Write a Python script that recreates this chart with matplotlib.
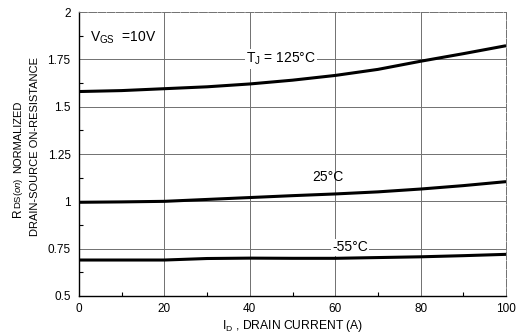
import matplotlib
matplotlib.use("Agg")
import matplotlib.pyplot as plt
from matplotlib.ticker import MultipleLocator
from matplotlib.transforms import offset_copy

plt.rcParams['font.family'] = ['Liberation Sans', 'DejaVu Sans']
plt.rcParams['mathtext.fontset'] = 'custom'
plt.rcParams['mathtext.rm'] = 'Liberation Sans'
plt.rcParams['mathtext.it'] = 'Liberation Sans:italic'

# Data
current = [0, 10, 20, 30, 40, 50, 60, 70, 80, 90, 100]
r_125 = [1.580, 1.585, 1.595, 1.605, 1.620, 1.640, 1.665, 1.697, 1.740, 1.780, 1.822]
r_25 = [0.995, 0.997, 1.000, 1.010, 1.020, 1.030, 1.039, 1.050, 1.065, 1.083, 1.104]
r_m55 = [0.690, 0.690, 0.690, 0.698, 0.700, 0.699, 0.699, 0.703, 0.707, 0.713, 0.720]

x_ticks = [0, 20, 40, 60, 80, 100]
y_ticks = [0.5, 0.75, 1.0, 1.25, 1.5, 1.75, 2.0]
y_ticklabels = ['0.5', '0.75', '1', '1.25', '1.5', '1.75', '2']

fig = plt.figure(figsize=(5.19, 3.34), dpi=100)
ax = fig.add_axes([0.1522, 0.1138, 0.8228, 0.8502])

for yv in y_ticks[1:-1]:
    ax.axhline(yv, color='#707070', lw=0.7, zorder=1)
for xv in x_ticks[1:-1]:
    ax.axvline(xv, color='#707070', lw=0.7, zorder=1)

for ys in (r_125, r_25, r_m55):
    ax.plot(current, ys, color='black', lw=2.2, zorder=3, solid_capstyle='butt')

ax.set_xlim(0, 100)
ax.set_ylim(0.5, 2.0)
ax.set_xticks(x_ticks)
ax.set_yticks(y_ticks)
ax.set_yticklabels(y_ticklabels)
ax.xaxis.set_minor_locator(MultipleLocator(10))
ax.yaxis.set_minor_locator(MultipleLocator(0.125))
ax.tick_params(which='both', direction='in', labelsize=8.5, length=3, width=0.8)
ax.tick_params(which='major', length=0, pad=5)
ax.tick_params(axis='y', which='major', pad=6)

for side in ('left', 'bottom'):
    ax.spines[side].set_linewidth(1.0)
for side in ('top', 'right'):
    ax.spines[side].set_linewidth(0.7)
    ax.spines[side].set_color('#707070')
    ax.spines[side].set_linestyle((0, (8, 1.5)))

ax.text(2.6, 1.863, r'V$_{\mathregular{GS}}$  =10V', fontsize=10, va='center', ha='left', zorder=4)
ax.text(39.1, 1.752, r'T$_{\mathregular{J}}$ = 125°C', fontsize=10, va='center', ha='left', zorder=4,
        bbox=dict(facecolor='white', edgecolor='none', pad=1))
ax.text(58.3, 1.13, '25°C', fontsize=10, va='center', ha='center', zorder=4)
ax.text(63.5, 0.757, '-55°C', fontsize=10, va='center', ha='center', zorder=4,
        bbox=dict(facecolor='white', edgecolor='none', pad=1))

ax.set_xlabel(r'I$_{\mathregular{D}}$ , DRAIN CURRENT (A)', fontsize=8.7, labelpad=2)

# Y label, second line
fig.text(0.068, 0.561, 'DRAIN-SOURCE ON-RESISTANCE', rotation=90,
         fontsize=8, ha='center', va='center')

# Y label, first line built from pieces (bottom to top)
x0 = 0.034
y_bottom = 1 - 217 / 334
t1 = fig.text(x0, y_bottom, 'R', rotation=90, fontsize=8.5, ha='center', va='bottom')
fig.canvas.draw()
r = fig.canvas.get_renderer()
bb = t1.get_window_extent(r)
h1 = bb.height * 72 / fig.dpi
tr2 = offset_copy(fig.transFigure, fig=fig, x=0.5, y=h1 - 0.6, units='points')
t2 = fig.text(x0, y_bottom, r'DS($\mathit{on}$)', rotation=90, fontsize=6.8,
              ha='center', va='bottom', transform=tr2)
fig.canvas.draw()
bb2 = t2.get_window_extent(r)
h2 = bb2.height * 72 / fig.dpi
tr3 = offset_copy(fig.transFigure, fig=fig, x=0, y=h1 + h2 + 3.0, units='points')
fig.text(x0, y_bottom, 'NORMALIZED', rotation=90, fontsize=8,
         ha='center', va='bottom', transform=tr3)

fig.savefig('out.png', dpi=100)
